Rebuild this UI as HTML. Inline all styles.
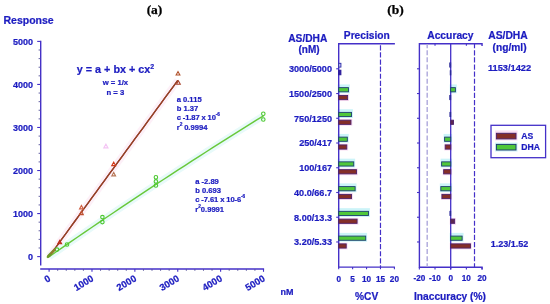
<!DOCTYPE html>
<html><head><meta charset="utf-8"><style>
html,body{margin:0;padding:0;background:#fff;}
body{width:550px;height:304px;overflow:hidden;}
svg{display:block;will-change:transform;}
.b{font-family:"Liberation Sans",sans-serif;font-weight:bold;fill:#1c1cc0;stroke:#1c1cc0;stroke-width:0.22px;}
</style></head><body>
<svg width="550" height="304" viewBox="0 0 550 304">
<rect width="550" height="304" fill="#fff"/>
<text x="3.5" y="23.5" class="b" font-size="10.5">Response</text>
<text x="154.5" y="13.6" font-family="Liberation Serif, serif" font-weight="bold" font-size="13.5" fill="#000" stroke="#000" stroke-width="0.25" text-anchor="middle">(a)</text>
<line x1="40.7" y1="40.8" x2="40.7" y2="265.5" stroke="#4430c8" stroke-width="1.4"/>
<line x1="37.2" y1="256.6" x2="40.7" y2="256.6" stroke="#4430c8" stroke-width="1.1"/>
<text x="33" y="259.8" class="b" font-size="9" text-anchor="end">0</text>
<line x1="38.6" y1="247.99" x2="40.7" y2="247.99" stroke="#545098" stroke-width="0.9"/>
<line x1="38.6" y1="239.38" x2="40.7" y2="239.38" stroke="#545098" stroke-width="0.9"/>
<line x1="38.6" y1="230.78" x2="40.7" y2="230.78" stroke="#545098" stroke-width="0.9"/>
<line x1="38.6" y1="222.17" x2="40.7" y2="222.17" stroke="#545098" stroke-width="0.9"/>
<line x1="37.2" y1="213.56" x2="40.7" y2="213.56" stroke="#4430c8" stroke-width="1.1"/>
<text x="33" y="216.76" class="b" font-size="9" text-anchor="end">1000</text>
<line x1="38.6" y1="204.95" x2="40.7" y2="204.95" stroke="#545098" stroke-width="0.9"/>
<line x1="38.6" y1="196.34" x2="40.7" y2="196.34" stroke="#545098" stroke-width="0.9"/>
<line x1="38.6" y1="187.74" x2="40.7" y2="187.74" stroke="#545098" stroke-width="0.9"/>
<line x1="38.6" y1="179.13" x2="40.7" y2="179.13" stroke="#545098" stroke-width="0.9"/>
<line x1="37.2" y1="170.52" x2="40.7" y2="170.52" stroke="#4430c8" stroke-width="1.1"/>
<text x="33" y="173.72" class="b" font-size="9" text-anchor="end">2000</text>
<line x1="38.6" y1="161.91" x2="40.7" y2="161.91" stroke="#545098" stroke-width="0.9"/>
<line x1="38.6" y1="153.3" x2="40.7" y2="153.3" stroke="#545098" stroke-width="0.9"/>
<line x1="38.6" y1="144.7" x2="40.7" y2="144.7" stroke="#545098" stroke-width="0.9"/>
<line x1="38.6" y1="136.09" x2="40.7" y2="136.09" stroke="#545098" stroke-width="0.9"/>
<line x1="37.2" y1="127.48" x2="40.7" y2="127.48" stroke="#4430c8" stroke-width="1.1"/>
<text x="33" y="130.68" class="b" font-size="9" text-anchor="end">3000</text>
<line x1="38.6" y1="118.87" x2="40.7" y2="118.87" stroke="#545098" stroke-width="0.9"/>
<line x1="38.6" y1="110.26" x2="40.7" y2="110.26" stroke="#545098" stroke-width="0.9"/>
<line x1="38.6" y1="101.66" x2="40.7" y2="101.66" stroke="#545098" stroke-width="0.9"/>
<line x1="38.6" y1="93.05" x2="40.7" y2="93.05" stroke="#545098" stroke-width="0.9"/>
<line x1="37.2" y1="84.44" x2="40.7" y2="84.44" stroke="#4430c8" stroke-width="1.1"/>
<text x="33" y="87.64" class="b" font-size="9" text-anchor="end">4000</text>
<line x1="38.6" y1="75.83" x2="40.7" y2="75.83" stroke="#545098" stroke-width="0.9"/>
<line x1="38.6" y1="67.22" x2="40.7" y2="67.22" stroke="#545098" stroke-width="0.9"/>
<line x1="38.6" y1="58.62" x2="40.7" y2="58.62" stroke="#545098" stroke-width="0.9"/>
<line x1="38.6" y1="50.01" x2="40.7" y2="50.01" stroke="#545098" stroke-width="0.9"/>
<line x1="37.2" y1="41.4" x2="40.7" y2="41.4" stroke="#4430c8" stroke-width="1.1"/>
<text x="33" y="44.6" class="b" font-size="9" text-anchor="end">5000</text>
<line x1="40.2" y1="269" x2="264.1" y2="269" stroke="#4430c8" stroke-width="1.4"/>
<line x1="49.1" y1="269" x2="49.1" y2="271.8" stroke="#4430c8" stroke-width="1.1"/>
<text transform="translate(51.4,280.3) rotate(-31)" class="b" font-size="9.5" text-anchor="end">0</text>
<line x1="57.68" y1="269" x2="57.68" y2="270.8" stroke="#545098" stroke-width="0.9"/>
<line x1="66.25" y1="269" x2="66.25" y2="270.8" stroke="#545098" stroke-width="0.9"/>
<line x1="74.83" y1="269" x2="74.83" y2="270.8" stroke="#545098" stroke-width="0.9"/>
<line x1="83.4" y1="269" x2="83.4" y2="270.8" stroke="#545098" stroke-width="0.9"/>
<line x1="91.98" y1="269" x2="91.98" y2="271.8" stroke="#4430c8" stroke-width="1.1"/>
<text transform="translate(94.28,280.3) rotate(-31)" class="b" font-size="9.5" text-anchor="end">1000</text>
<line x1="100.56" y1="269" x2="100.56" y2="270.8" stroke="#545098" stroke-width="0.9"/>
<line x1="109.13" y1="269" x2="109.13" y2="270.8" stroke="#545098" stroke-width="0.9"/>
<line x1="117.71" y1="269" x2="117.71" y2="270.8" stroke="#545098" stroke-width="0.9"/>
<line x1="126.28" y1="269" x2="126.28" y2="270.8" stroke="#545098" stroke-width="0.9"/>
<line x1="134.86" y1="269" x2="134.86" y2="271.8" stroke="#4430c8" stroke-width="1.1"/>
<text transform="translate(137.16,280.3) rotate(-31)" class="b" font-size="9.5" text-anchor="end">2000</text>
<line x1="143.44" y1="269" x2="143.44" y2="270.8" stroke="#545098" stroke-width="0.9"/>
<line x1="152.01" y1="269" x2="152.01" y2="270.8" stroke="#545098" stroke-width="0.9"/>
<line x1="160.59" y1="269" x2="160.59" y2="270.8" stroke="#545098" stroke-width="0.9"/>
<line x1="169.16" y1="269" x2="169.16" y2="270.8" stroke="#545098" stroke-width="0.9"/>
<line x1="177.74" y1="269" x2="177.74" y2="271.8" stroke="#4430c8" stroke-width="1.1"/>
<text transform="translate(180.04,280.3) rotate(-31)" class="b" font-size="9.5" text-anchor="end">3000</text>
<line x1="186.32" y1="269" x2="186.32" y2="270.8" stroke="#545098" stroke-width="0.9"/>
<line x1="194.89" y1="269" x2="194.89" y2="270.8" stroke="#545098" stroke-width="0.9"/>
<line x1="203.47" y1="269" x2="203.47" y2="270.8" stroke="#545098" stroke-width="0.9"/>
<line x1="212.04" y1="269" x2="212.04" y2="270.8" stroke="#545098" stroke-width="0.9"/>
<line x1="220.62" y1="269" x2="220.62" y2="271.8" stroke="#4430c8" stroke-width="1.1"/>
<text transform="translate(222.92,280.3) rotate(-31)" class="b" font-size="9.5" text-anchor="end">4000</text>
<line x1="229.2" y1="269" x2="229.2" y2="270.8" stroke="#545098" stroke-width="0.9"/>
<line x1="237.77" y1="269" x2="237.77" y2="270.8" stroke="#545098" stroke-width="0.9"/>
<line x1="246.35" y1="269" x2="246.35" y2="270.8" stroke="#545098" stroke-width="0.9"/>
<line x1="254.92" y1="269" x2="254.92" y2="270.8" stroke="#545098" stroke-width="0.9"/>
<line x1="263.5" y1="269" x2="263.5" y2="271.8" stroke="#4430c8" stroke-width="1.1"/>
<text transform="translate(265.8,280.3) rotate(-31)" class="b" font-size="9.5" text-anchor="end">5000</text>
<polyline points="49.1,256.6 53.39,250.7 57.68,244.81 61.96,238.91 66.25,233.02 70.54,227.13 74.83,221.25 79.12,215.36 83.4,209.47 87.69,203.59 91.98,197.71 96.27,191.83 100.56,185.95 104.84,180.08 109.13,174.2 113.42,168.33 117.71,162.46 122,156.59 126.28,150.72 130.57,144.85 134.86,138.99 139.15,133.12 143.44,127.26 147.72,121.4 152.01,115.54 156.3,109.69 160.59,103.83 164.88,97.98 169.16,92.12 173.45,86.27 177.74,80.43" fill="none" stroke="#fdf0f8" stroke-width="7"/>
<polyline points="49.1,256.6 53.39,250.7 57.68,244.81 61.96,238.91 66.25,233.02 70.54,227.13 74.83,221.25 79.12,215.36 83.4,209.47 87.69,203.59 91.98,197.71 96.27,191.83 100.56,185.95 104.84,180.08 109.13,174.2 113.42,168.33 117.71,162.46 122,156.59 126.28,150.72 130.57,144.85 134.86,138.99 139.15,133.12 143.44,127.26 147.72,121.4 152.01,115.54 156.3,109.69 160.59,103.83 164.88,97.98 169.16,92.12 173.45,86.27 177.74,80.43" fill="none" stroke="#964028" stroke-width="1.3"/>
<polyline points="49.1,256.72 56.25,251.76 63.39,246.82 70.54,241.89 77.69,236.99 84.83,232.1 91.98,227.23 99.13,222.37 106.27,217.54 113.42,212.72 120.57,207.92 127.71,203.14 134.86,198.38 142.01,193.64 149.15,188.91 156.3,184.2 163.45,179.52 170.59,174.84 177.74,170.19 184.89,165.56 192.03,160.94 199.18,156.34 206.33,151.76 213.47,147.2 220.62,142.66 227.77,138.13 234.91,133.63 242.06,129.14 249.21,124.67 256.35,120.21 263.5,115.78" fill="none" stroke="#e8fafa" stroke-width="7"/>
<polyline points="49.1,256.6 53.39,250.7 57.68,244.81 61.96,238.91 66.25,233.02 70.54,227.13 74.83,221.25 79.12,215.36 83.4,209.47 87.69,203.59 91.98,197.71 96.27,191.83 100.56,185.95 104.84,180.08 109.13,174.2 113.42,168.33 117.71,162.46 122,156.59 126.28,150.72 130.57,144.85 134.86,138.99 139.15,133.12 143.44,127.26 147.72,121.4 152.01,115.54 156.3,109.69 160.59,103.83 164.88,97.98 169.16,92.12 173.45,86.27 177.74,80.43" fill="none" stroke="#964028" stroke-width="1.3"/>
<polyline points="49.1,256.72 56.25,251.76 63.39,246.82 70.54,241.89 77.69,236.99 84.83,232.1 91.98,227.23 99.13,222.37 106.27,217.54 113.42,212.72 120.57,207.92 127.71,203.14 134.86,198.38 142.01,193.64 149.15,188.91 156.3,184.2 163.45,179.52 170.59,174.84 177.74,170.19 184.89,165.56 192.03,160.94 199.18,156.34 206.33,151.76 213.47,147.2 220.62,142.66 227.77,138.13 234.91,133.63 242.06,129.14 249.21,124.67 256.35,120.21 263.5,115.78" fill="none" stroke="#68c83a" stroke-width="1.4"/>
<path d="M176.1,75 L178,71.6 L179.9,75 Z" fill="none" stroke="#b0502a" stroke-width="1.1"/>
<path d="M176.5,84.2 L178.4,80.8 L180.3,84.2 Z" fill="none" stroke="#a8422a" stroke-width="1.1"/>
<path d="M111.8,165.6 L113.7,162.2 L115.6,165.6 Z" fill="none" stroke="#d03818" stroke-width="1.1"/>
<path d="M111.8,175.9 L113.7,172.5 L115.6,175.9 Z" fill="none" stroke="#b87858" stroke-width="1.1"/>
<path d="M79.5,208.9 L81.4,205.5 L83.3,208.9 Z" fill="none" stroke="#d06040" stroke-width="1.1"/>
<path d="M79.5,214.6 L81.4,211.2 L83.3,214.6 Z" fill="none" stroke="#c05030" stroke-width="1.1"/>
<path d="M57.8,243.7 L59.7,240.3 L61.6,243.7 Z" fill="#a84a30" stroke="#c02818" stroke-width="1.1"/>
<circle cx="263.3" cy="113.8" r="1.75" fill="none" stroke="#4cc830" stroke-width="1.1"/>
<circle cx="263.3" cy="119.5" r="1.75" fill="none" stroke="#4cc830" stroke-width="1.1"/>
<circle cx="155.9" cy="177.3" r="1.75" fill="none" stroke="#4cc830" stroke-width="1.1"/>
<circle cx="155.9" cy="181.4" r="1.75" fill="none" stroke="#4cc830" stroke-width="1.1"/>
<circle cx="155.9" cy="185.5" r="1.75" fill="none" stroke="#4cc830" stroke-width="1.1"/>
<circle cx="102.4" cy="217.1" r="1.75" fill="none" stroke="#4cc830" stroke-width="1.1"/>
<circle cx="102.4" cy="222.1" r="1.75" fill="none" stroke="#4cc830" stroke-width="1.1"/>
<circle cx="67" cy="244.5" r="1.75" fill="none" stroke="#4cc830" stroke-width="1.1"/>
<circle cx="57" cy="249.6" r="1.75" fill="none" stroke="#4cc830" stroke-width="1.1"/>
<path d="M48.6,256 L54.4,249.8" stroke="#8e7c2c" stroke-width="2.7" stroke-linecap="round" fill="none"/>
<path d="M47.9,256.9 L50.2,254.6" stroke="#6a9a28" stroke-width="2.4" stroke-linecap="round" fill="none"/>
<path d="M103.9,147.8 L105.9,144.3 L107.9,147.8 Z" fill="none" stroke="#f4c4f4" stroke-width="1.2"/>
<text x="115.5" y="72.8" class="b" font-size="10.8" text-anchor="middle">y = a + bx + cx<tspan dy="-4" font-size="7">2</tspan></text>
<text x="115.4" y="85" class="b" font-size="7.7" text-anchor="middle">w = 1/x</text>
<text x="115.4" y="95.1" class="b" font-size="7.7" text-anchor="middle">n = 3</text>
<text x="176.7" y="101.9" class="b" font-size="7.6">a 0.115</text>
<text x="176.7" y="110.9" class="b" font-size="7.6">b 1.37</text>
<text x="176.7" y="119.8" class="b" font-size="7.6"><tspan letter-spacing="-0.12">c -1.87 x 10</tspan><tspan dy="-3.6" font-size="4.6">-6</tspan></text>
<text x="176.7" y="129.9" class="b" font-size="7.6">r<tspan dy="-3.6" font-size="4.8">2</tspan><tspan dy="3.6" dx="-0.3"> 0.9994</tspan></text>
<text x="195.2" y="183.6" class="b" font-size="7.6">a -2.89</text>
<text x="195.2" y="192.5" class="b" font-size="7.6">b 0.693</text>
<text x="195.2" y="201.7" class="b" font-size="7.6"><tspan letter-spacing="-0.1">c -7.61 x 10-6</tspan><tspan dy="-3.6" font-size="4.6">-6</tspan></text>
<text x="195.2" y="212.0" class="b" font-size="7.6">r<tspan dy="-3.6" font-size="4.8">2</tspan><tspan dy="3.6">0.9991</tspan></text>
<text x="395.6" y="13.8" font-family="Liberation Serif, serif" font-weight="bold" font-size="13.5" fill="#000" stroke="#000" stroke-width="0.25" text-anchor="middle">(b)</text>
<text x="307.8" y="42" class="b" font-size="10.2" text-anchor="middle">AS/DHA</text>
<text x="309" y="53.3" class="b" font-size="10" text-anchor="middle">(nM)</text>
<text x="366.8" y="39.3" class="b" font-size="10.2" text-anchor="middle">Precision</text>
<text x="450.4" y="39.4" class="b" font-size="10.3" text-anchor="middle">Accuracy</text>
<text x="508" y="39.2" class="b" font-size="10.3" text-anchor="middle">AS/DHA</text>
<text x="509.6" y="50.9" class="b" font-size="10.2" text-anchor="middle">(ng/ml)</text>
<text x="509.5" y="70.7" class="b" font-size="9.25" text-anchor="middle">1153/1422</text>
<text x="509.6" y="246.8" class="b" font-size="9" text-anchor="middle">1.23/1.52</text>
<text x="280.5" y="294.9" class="b" font-size="9">nM</text>
<text x="366.6" y="299.6" class="b" font-size="10.2" text-anchor="middle">%CV</text>
<text x="450" y="300.2" class="b" font-size="10.2" text-anchor="middle">Inaccuracy (%)</text>
<text x="332" y="72.2" class="b" font-size="9.1" text-anchor="end">3000/5000</text>
<text x="332" y="96.94" class="b" font-size="9.1" text-anchor="end">1500/2500</text>
<text x="332" y="121.68" class="b" font-size="9.1" text-anchor="end">750/1250</text>
<text x="332" y="146.42" class="b" font-size="9.1" text-anchor="end">250/417</text>
<text x="332" y="171.16" class="b" font-size="9.1" text-anchor="end">100/167</text>
<text x="332" y="195.9" class="b" font-size="9.1" text-anchor="end">40.0/66.7</text>
<text x="332" y="220.64" class="b" font-size="9.1" text-anchor="end">8.00/13.3</text>
<text x="332" y="245.38" class="b" font-size="9.1" text-anchor="end">3.20/5.33</text>
<rect x="337.7" y="84.44" width="12.15" height="8.8" fill="#ccf4f8"/>
<rect x="337.7" y="94.24" width="11.31" height="6.8" fill="#f9dcf2"/>
<rect x="337.7" y="109.18" width="15.21" height="8.8" fill="#ccf4f8"/>
<rect x="337.7" y="118.98" width="14.65" height="6.8" fill="#f9dcf2"/>
<rect x="337.7" y="133.92" width="11.03" height="8.8" fill="#ccf4f8"/>
<rect x="337.7" y="143.72" width="10.48" height="6.8" fill="#f9dcf2"/>
<rect x="337.7" y="158.66" width="17.44" height="8.8" fill="#ccf4f8"/>
<rect x="337.7" y="168.46" width="20.22" height="6.8" fill="#f9dcf2"/>
<rect x="337.7" y="183.4" width="18.83" height="8.8" fill="#ccf4f8"/>
<rect x="337.7" y="193.2" width="15.21" height="6.8" fill="#f9dcf2"/>
<rect x="337.7" y="208.14" width="32.2" height="8.8" fill="#ccf4f8"/>
<rect x="337.7" y="217.94" width="20.78" height="6.8" fill="#f9dcf2"/>
<rect x="337.7" y="232.88" width="29.41" height="8.8" fill="#ccf4f8"/>
<rect x="337.7" y="242.68" width="9.92" height="6.8" fill="#f9dcf2"/>
<rect x="449.7" y="84.44" width="7.1" height="8.8" fill="#ccf4f8"/>
<rect x="443.59" y="133.92" width="8.51" height="8.8" fill="#ccf4f8"/>
<rect x="444.21" y="143.72" width="7.89" height="6.8" fill="#f9dcf2"/>
<rect x="440.61" y="158.66" width="11.49" height="8.8" fill="#ccf4f8"/>
<rect x="442.65" y="168.46" width="9.45" height="6.8" fill="#f9dcf2"/>
<rect x="439.82" y="183.4" width="12.28" height="8.8" fill="#ccf4f8"/>
<rect x="440.92" y="193.2" width="11.18" height="6.8" fill="#f9dcf2"/>
<rect x="449.7" y="217.94" width="6.32" height="6.8" fill="#f9dcf2"/>
<rect x="449.7" y="232.88" width="13.84" height="8.8" fill="#ccf4f8"/>
<rect x="449.7" y="242.68" width="22.15" height="6.8" fill="#f9dcf2"/>
<path d="M394.9,43.8 H338.7 V267.1 H394.9" fill="none" stroke="#4430c8" stroke-width="1.4"/>
<line x1="380.48" y1="44" x2="380.48" y2="267" stroke="#4430c8" stroke-width="1.2" stroke-dasharray="5.2 1.9" stroke-dashoffset="5.85"/>
<line x1="338.7" y1="267" x2="338.7" y2="269.2" stroke="#4430c8" stroke-width="1.1"/>
<text x="338.7" y="281.6" class="b" font-size="8.2" text-anchor="middle">0</text>
<line x1="352.62" y1="267" x2="352.62" y2="269.2" stroke="#4430c8" stroke-width="1.1"/>
<text x="352.62" y="281.6" class="b" font-size="8.2" text-anchor="middle">5</text>
<line x1="366.55" y1="267" x2="366.55" y2="269.2" stroke="#4430c8" stroke-width="1.1"/>
<text x="366.55" y="281.6" class="b" font-size="8.2" text-anchor="middle">10</text>
<line x1="380.48" y1="267" x2="380.48" y2="269.2" stroke="#4430c8" stroke-width="1.1"/>
<text x="380.48" y="281.6" class="b" font-size="8.2" text-anchor="middle">15</text>
<line x1="394.4" y1="267" x2="394.4" y2="269.2" stroke="#4430c8" stroke-width="1.1"/>
<text x="394.4" y="281.6" class="b" font-size="8.2" text-anchor="middle">20</text>
<line x1="336.2" y1="68.8" x2="338.7" y2="68.8" stroke="#4430c8" stroke-width="1.1"/>
<line x1="336.2" y1="93.54" x2="338.7" y2="93.54" stroke="#4430c8" stroke-width="1.1"/>
<line x1="336.2" y1="118.28" x2="338.7" y2="118.28" stroke="#4430c8" stroke-width="1.1"/>
<line x1="336.2" y1="143.02" x2="338.7" y2="143.02" stroke="#4430c8" stroke-width="1.1"/>
<line x1="336.2" y1="167.76" x2="338.7" y2="167.76" stroke="#4430c8" stroke-width="1.1"/>
<line x1="336.2" y1="192.5" x2="338.7" y2="192.5" stroke="#4430c8" stroke-width="1.1"/>
<line x1="336.2" y1="217.24" x2="338.7" y2="217.24" stroke="#4430c8" stroke-width="1.1"/>
<line x1="336.2" y1="241.98" x2="338.7" y2="241.98" stroke="#4430c8" stroke-width="1.1"/>
<path d="M482.05,46 V43.7 H419.4 V267.3 H482.05 V269.4" fill="none" stroke="#4430c8" stroke-width="1.4"/>
<line x1="450.7" y1="43.7" x2="450.7" y2="269.4" stroke="#4430c8" stroke-width="1.3"/>
<line x1="427.19" y1="44" x2="427.19" y2="267" stroke="#aea8dc" stroke-width="1.4" stroke-dasharray="5 2.1" stroke-dashoffset="0.85"/>
<line x1="474.5" y1="44" x2="474.5" y2="267" stroke="#4430c8" stroke-width="1.2" stroke-dasharray="5.2 1.9" stroke-dashoffset="0.85"/>
<line x1="419.35" y1="267.3" x2="419.35" y2="269.5" stroke="#4430c8" stroke-width="1.1"/>
<text x="419.35" y="281.3" class="b" font-size="8.2" text-anchor="middle">-20</text>
<line x1="435.02" y1="267.3" x2="435.02" y2="269.5" stroke="#4430c8" stroke-width="1.1"/>
<text x="435.02" y="281.3" class="b" font-size="8.2" text-anchor="middle">-10</text>
<line x1="450.7" y1="267.3" x2="450.7" y2="269.5" stroke="#4430c8" stroke-width="1.1"/>
<text x="450.7" y="281.3" class="b" font-size="8.2" text-anchor="middle">0</text>
<line x1="466.38" y1="267.3" x2="466.38" y2="269.5" stroke="#4430c8" stroke-width="1.1"/>
<text x="466.38" y="281.3" class="b" font-size="8.2" text-anchor="middle">10</text>
<line x1="482.05" y1="267.3" x2="482.05" y2="269.5" stroke="#4430c8" stroke-width="1.1"/>
<text x="482.05" y="281.3" class="b" font-size="8.2" text-anchor="middle">20</text>
<line x1="435.02" y1="43.7" x2="435.02" y2="45.8" stroke="#4430c8" stroke-width="1.1"/>
<line x1="466.38" y1="43.7" x2="466.38" y2="45.8" stroke="#4430c8" stroke-width="1.1"/>
<line x1="417" y1="68.8" x2="419.4" y2="68.8" stroke="#4430c8" stroke-width="1.1"/>
<line x1="417" y1="93.54" x2="419.4" y2="93.54" stroke="#4430c8" stroke-width="1.1"/>
<line x1="417" y1="118.28" x2="419.4" y2="118.28" stroke="#4430c8" stroke-width="1.1"/>
<line x1="417" y1="143.02" x2="419.4" y2="143.02" stroke="#4430c8" stroke-width="1.1"/>
<line x1="417" y1="167.76" x2="419.4" y2="167.76" stroke="#4430c8" stroke-width="1.1"/>
<line x1="417" y1="192.5" x2="419.4" y2="192.5" stroke="#4430c8" stroke-width="1.1"/>
<line x1="417" y1="217.24" x2="419.4" y2="217.24" stroke="#4430c8" stroke-width="1.1"/>
<line x1="417" y1="241.98" x2="419.4" y2="241.98" stroke="#4430c8" stroke-width="1.1"/>
<rect x="338.7" y="63.3" width="2.23" height="3.8" fill="#c4c4f0" stroke="#2c2ca8" stroke-width="0.9"/>
<rect x="338.7" y="70.2" width="2.23" height="4.6" fill="#3020a0" stroke="#2a1a98" stroke-width="0.9"/>
<rect x="338.7" y="87.64" width="9.75" height="4.2" fill="#50c83a" stroke="#1c3c70" stroke-width="0.9"/>
<rect x="338.7" y="95.44" width="8.91" height="4.2" fill="#842e28" stroke="#4c2268" stroke-width="0.9"/>
<rect x="338.7" y="112.38" width="12.81" height="4.2" fill="#50c83a" stroke="#1c3c70" stroke-width="0.9"/>
<rect x="338.7" y="120.18" width="12.25" height="4.2" fill="#842e28" stroke="#4c2268" stroke-width="0.9"/>
<rect x="338.7" y="137.12" width="8.63" height="4.2" fill="#50c83a" stroke="#1c3c70" stroke-width="0.9"/>
<rect x="338.7" y="144.92" width="8.08" height="4.2" fill="#842e28" stroke="#4c2268" stroke-width="0.9"/>
<rect x="338.7" y="161.86" width="15.04" height="4.2" fill="#50c83a" stroke="#1c3c70" stroke-width="0.9"/>
<rect x="338.7" y="169.66" width="17.82" height="4.2" fill="#842e28" stroke="#4c2268" stroke-width="0.9"/>
<rect x="338.7" y="186.6" width="16.43" height="4.2" fill="#50c83a" stroke="#1c3c70" stroke-width="0.9"/>
<rect x="338.7" y="194.4" width="12.81" height="4.2" fill="#842e28" stroke="#4c2268" stroke-width="0.9"/>
<rect x="338.7" y="211.34" width="29.8" height="4.2" fill="#50c83a" stroke="#1c3c70" stroke-width="0.9"/>
<rect x="338.7" y="219.14" width="18.38" height="4.2" fill="#842e28" stroke="#4c2268" stroke-width="0.9"/>
<rect x="338.7" y="236.08" width="27.01" height="4.2" fill="#50c83a" stroke="#1c3c70" stroke-width="0.9"/>
<rect x="338.7" y="243.88" width="7.52" height="4.2" fill="#842e28" stroke="#4c2268" stroke-width="0.9"/>
<rect x="449.76" y="62.9" width="0.94" height="4.2" fill="#3a30b0" stroke="#2a2a98" stroke-width="0.9"/>
<rect x="450.23" y="70.7" width="0.6" height="4.2" fill="#3a30b0" stroke="#2a2a98" stroke-width="0.9"/>
<rect x="450.7" y="87.64" width="4.7" height="4.2" fill="#50c83a" stroke="#1c3c70" stroke-width="0.9"/>
<rect x="449.76" y="95.44" width="0.94" height="4.2" fill="#3a30b0" stroke="#2a2a98" stroke-width="0.9"/>
<rect x="449.92" y="112.38" width="0.78" height="4.2" fill="#3a30b0" stroke="#2a2a98" stroke-width="0.9"/>
<rect x="450.7" y="120.18" width="2.82" height="4.2" fill="#5e2850" stroke="#4c2268" stroke-width="0.9"/>
<rect x="444.59" y="137.12" width="6.11" height="4.2" fill="#50c83a" stroke="#1c3c70" stroke-width="0.9"/>
<rect x="445.21" y="144.92" width="5.49" height="4.2" fill="#842e28" stroke="#4c2268" stroke-width="0.9"/>
<rect x="441.61" y="161.86" width="9.09" height="4.2" fill="#50c83a" stroke="#1c3c70" stroke-width="0.9"/>
<rect x="443.65" y="169.66" width="7.05" height="4.2" fill="#842e28" stroke="#4c2268" stroke-width="0.9"/>
<rect x="440.82" y="186.6" width="9.88" height="4.2" fill="#50c83a" stroke="#1c3c70" stroke-width="0.9"/>
<rect x="441.92" y="194.4" width="8.78" height="4.2" fill="#842e28" stroke="#4c2268" stroke-width="0.9"/>
<rect x="449.92" y="211.34" width="0.78" height="4.2" fill="#3a30b0" stroke="#2a2a98" stroke-width="0.9"/>
<rect x="450.7" y="219.14" width="3.92" height="4.2" fill="#5e2850" stroke="#4c2268" stroke-width="0.9"/>
<rect x="450.7" y="236.08" width="11.44" height="4.2" fill="#50c83a" stroke="#1c3c70" stroke-width="0.9"/>
<rect x="450.7" y="243.88" width="19.75" height="4.2" fill="#842e28" stroke="#4c2268" stroke-width="0.9"/>
<rect x="491" y="125.3" width="54.6" height="32.4" fill="none" stroke="#4430c8" stroke-width="1.3"/>
<rect x="495" y="130.5" width="22.6" height="10" fill="#fbe0f4"/>
<rect x="495" y="142.6" width="22.6" height="9" fill="#d4f6f8"/>
<rect x="496.4" y="133.3" width="19.6" height="5.6" fill="#842e28" stroke="#4c2268" stroke-width="1"/>
<rect x="496.4" y="144.4" width="19.6" height="5.6" fill="#50c83a" stroke="#1c3c70" stroke-width="1"/>
<text x="521.3" y="138.6" class="b" font-size="8.6">AS</text>
<text x="521.3" y="149.7" class="b" font-size="8.6">DHA</text>
</svg>
</body></html>
